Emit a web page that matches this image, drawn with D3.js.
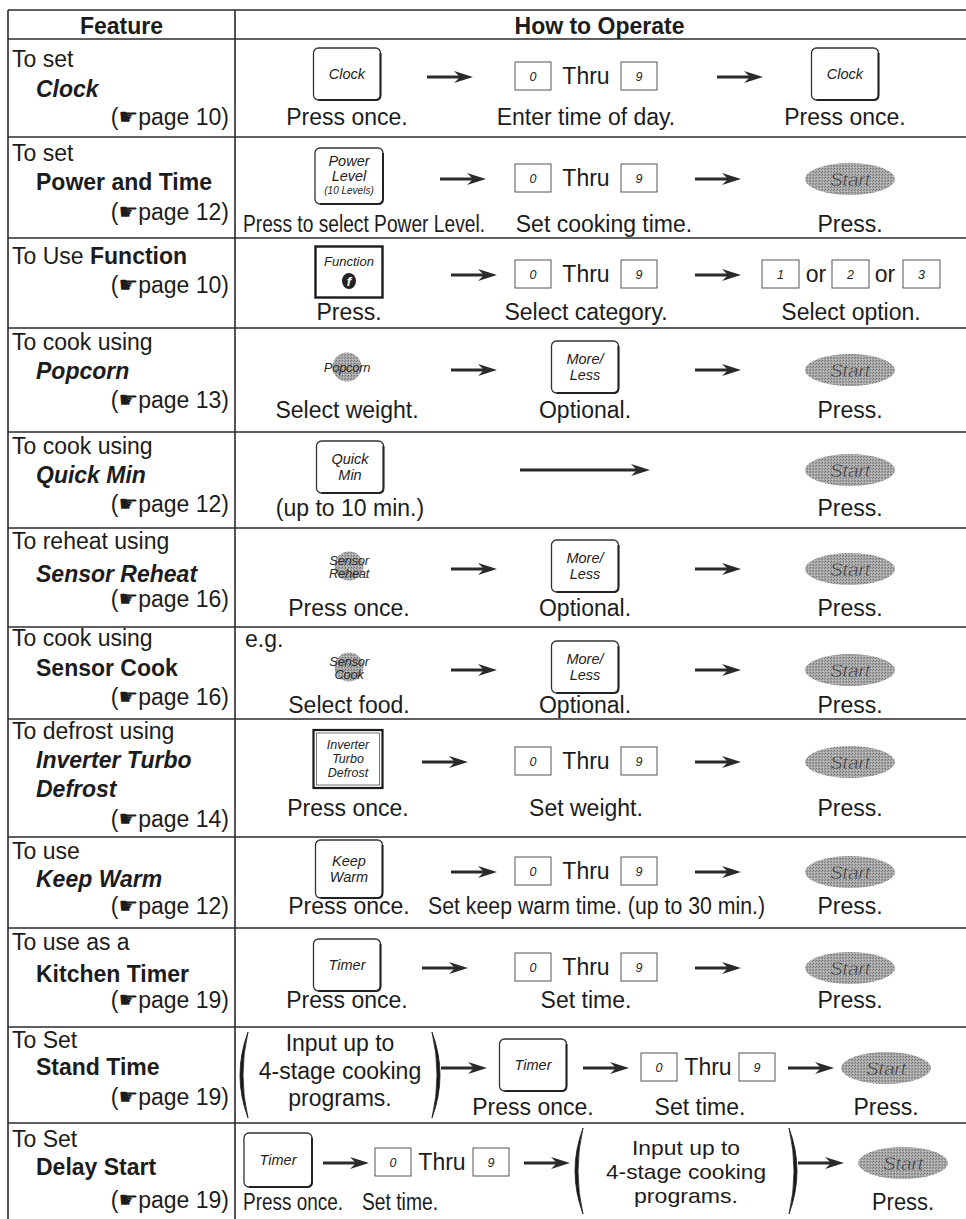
<!DOCTYPE html>
<html><head><meta charset="utf-8">
<script src="https://cdn.jsdelivr.net/npm/d3@7"></script>
<style>body{margin:0;background:#fff}svg{display:block}</style>
</head><body><svg id="c" width="966" height="1219"></svg>
<script>
// ================= DATA =================
const headers = ["Feature", "How to Operate"];
const featureIntro = ["To set","To set","To Use","To cook using","To cook using","To reheat using","To cook using","To defrost using","To use","To use as a","To Set","To Set"];
const featureNames = [["Clock"],["Power and Time"],["Function"],["Popcorn"],["Quick Min"],["Sensor Reheat"],["Sensor Cook"],["Inverter Turbo","Defrost"],["Keep Warm"],["Kitchen Timer"],["Stand Time"],["Delay Start"]];
const featureItalic = [true,false,false,true,true,true,false,true,true,false,false,false];
const pageRefs = [10,12,10,13,12,16,16,14,12,19,19,19];
const stagePrograms = ["Input up to","4-stage cooking","programs."];
const steps = [
  [{k:"key",t:["Clock"]},{k:"arrow"},{k:"digits"},{k:"arrow"},{k:"key",t:["Clock"]}],
  [{k:"key",t:["Power","Level","(10 Levels)"]},{k:"arrow"},{k:"digits"},{k:"arrow"},{k:"start"}],
  [{k:"fkey",t:["Function"]},{k:"arrow"},{k:"digits"},{k:"arrow"},{k:"opts",t:["1","2","3"]}],
  [{k:"pad",t:["Popcorn"]},{k:"arrow"},{k:"key",t:["More/","Less"]},{k:"arrow"},{k:"start"}],
  [{k:"key",t:["Quick","Min"]},{k:"arrow"},{k:"start"}],
  [{k:"pad",t:["Sensor","Reheat"]},{k:"arrow"},{k:"key",t:["More/","Less"]},{k:"arrow"},{k:"start"}],
  [{k:"pad",t:["Sensor","Cook"]},{k:"arrow"},{k:"key",t:["More/","Less"]},{k:"arrow"},{k:"start"}],
  [{k:"sq",t:["Inverter","Turbo","Defrost"]},{k:"arrow"},{k:"digits"},{k:"arrow"},{k:"start"}],
  [{k:"key",t:["Keep","Warm"]},{k:"arrow"},{k:"digits"},{k:"arrow"},{k:"start"}],
  [{k:"key",t:["Timer"]},{k:"arrow"},{k:"digits"},{k:"arrow"},{k:"start"}],
  [{k:"paren",t:stagePrograms},{k:"arrow"},{k:"key",t:["Timer"]},{k:"arrow"},{k:"digits"},{k:"arrow"},{k:"start"}],
  [{k:"key",t:["Timer"]},{k:"arrow"},{k:"digits"},{k:"arrow"},{k:"paren",t:stagePrograms},{k:"arrow"},{k:"start"}]
];
const captions = [
  ["Press once.","Enter time of day.","Press once."],
  ["Press to select Power Level.","Set cooking time.","Press."],
  ["Press.","Select category.","Select option."],
  ["Select weight.","Optional.","Press."],
  ["(up to 10 min.)","Press."],
  ["Press once.","Optional.","Press."],
  ["Select food.","Optional.","Press."],
  ["Press once.","Set weight.","Press."],
  ["Press once.","Set keep warm time. (up to 30 min.)","Press."],
  ["Press once.","Set time.","Press."],
  ["","Press once.","Set time.","Press."],
  ["Press once.","Set time.","","Press."]
];
const exampleNote = {row:6, text:"e.g."};

// ================= LAYOUT =================
const W = 966, H = 1219;
const X0 = 8, XDIV = 235, XR = 966, YTOP = 10, YHEAD = 39;
const rowHeights = [98,101,90,104,96,99,92,118,91,99,96,96];
const rowTops = [];
rowHeights.forEach((h,i)=>rowTops.push(i ? rowTops[i-1]+rowHeights[i-1] : YHEAD));
const yRow = d3.scaleOrdinal(d3.range(rowHeights.length), rowTops);
const xCols = d3.scaleOrdinal(["feature","operate"], [[X0, XDIV],[XDIV, XR]]);

const itemX = [
  [347,450,586,740,845],
  [349,463,586,718,850],
  [349,474,586,718,851],
  [347,474,585,718,850],
  [350,585,850],
  [349,474,585,718,850],
  [349,474,585,718,850],
  [348,445,586,718,850],
  [349,474,586,718,850],
  [347,445,586,718,850],
  [340,464,533,606,708,811,886],
  [278,346,442,547,686,821,903]
];
const keyDy = [35,39,34,39,35,38,40,40,32,37,38,37];
const capDy = [86,95,82,90,84,88,86,97,77,80,88,87];
const leftDy = [[28,58,86],[24,53,83],[26,55],[22,51,80],[22,51,80],[21,54,79],[19,49,78],[20,49,78,108],[22,50,77],[22,54,80],[21,48,78],[24,52,85]];
const FONT = "'Liberation Sans', Arial, Helvetica, sans-serif";
const FS = 23;
const INK = "#1c1c1c";

const svg = d3.select("#c");
const defs = svg.append("defs");
const pat = defs.append("pattern").attr("id","stip").attr("width",3).attr("height",3).attr("patternUnits","userSpaceOnUse");
pat.append("rect").attr("width",3).attr("height",3).attr("fill","#a9a9a9");
pat.append("rect").attr("width",1).attr("height",1).attr("fill","#727272");
pat.append("rect").attr("x",2).attr("y",1).attr("width",1).attr("height",1).attr("fill","#858585");
pat.append("rect").attr("x",1).attr("y",2).attr("width",1).attr("height",1).attr("fill","#c8c8c8");

svg.append("rect").attr("width",W).attr("height",H).attr("fill","#fff");
const gGrid = svg.append("g").attr("stroke","#2a2a2a").attr("stroke-width",1.6);
const gT = svg.append("g").attr("font-family",FONT).attr("fill",INK);

// grid
[YTOP, YHEAD].concat(rowTops.slice(1)).forEach(y=>{
  gGrid.append("line").attr("x1",X0).attr("x2",XR).attr("y1",y).attr("y2",y);
});
[X0, XDIV].forEach(x=>{
  gGrid.append("line").attr("x1",x).attr("x2",x).attr("y1",YTOP).attr("y2",H);
});

// headers
headers.forEach((h,i)=>{
  const [a,b] = xCols(i?"operate":"feature");
  gT.append("text").attr("x",(a+b)/2 + (i? -1:0)).attr("y",YTOP+24).attr("text-anchor","middle")
    .attr("font-size",FS).attr("font-weight","bold").text(h);
});

// feature column
featureIntro.forEach((intro,i)=>{
  const top = yRow(i), dy = leftDy[i];
  const bold = featureItalic[i] ? "italic" : "normal";
  let li = 0;
  if (i === 2) {
    const t = gT.append("text").attr("x",12).attr("y",top+dy[0]).attr("font-size",FS);
    t.append("tspan").text(intro+" ");
    t.append("tspan").attr("font-weight","bold").text(featureNames[i][0]);
    li = 1;
  } else {
    gT.append("text").attr("x",12).attr("y",top+dy[0]).attr("font-size",FS).text(intro);
    featureNames[i].forEach((n,j)=>{
      gT.append("text").attr("x",36).attr("y",top+dy[1+j]).attr("font-size",FS)
        .attr("font-weight","bold").attr("font-style",bold).text(n);
    });
    li = 1 + featureNames[i].length;
  }
  const p = gT.append("text").attr("x",229).attr("y",top+dy[li]).attr("font-size",FS).attr("text-anchor","end");
  p.append("tspan").text("(");
  p.append("tspan").attr("font-family","'DejaVu Sans'").attr("font-size",22).attr("dy",-1).text("\u261B");
  p.append("tspan").attr("dy",1).text("page " + pageRefs[i] + ")");
});

// ---------- step drawers ----------
function keyBtn(g, cx, cy, lines, w=67, h=52){
  g.append("rect").attr("x",cx-w/2).attr("y",cy-h/2).attr("width",w).attr("height",h).attr("rx",5)
    .attr("fill","#fff").attr("stroke","#333").attr("stroke-width",1.3);
  g.append("path").attr("d",`M${cx+w/2},${cy-h/2+5} V${cy+h/2-5} Q${cx+w/2},${cy+h/2} ${cx+w/2-5},${cy+h/2} H${cx-w/2+5}`)
    .attr("fill","none").attr("stroke","#222").attr("stroke-width",2);
  const sizes = lines.map(l=> l.startsWith("(") ? 10 : 14.5);
  const lh = lines.length===3 ? 15 : 16;
  const y0 = cy - (lines.length-1)*lh/2 + 5;
  lines.forEach((l,j)=>{
    g.append("text").attr("x",cx).attr("y",y0 + j*lh - (sizes[j]<12?2:0)).attr("text-anchor","middle")
      .attr("font-size",sizes[j]).attr("font-style","italic").attr("fill","#222").text(l);
  });
}
function fKey(g, cx, cy, lines){
  const w=67,h=51;
  g.append("rect").attr("x",cx-w/2).attr("y",cy-h/2).attr("width",w).attr("height",h)
    .attr("fill","#fff").attr("stroke","#1a1a1a").attr("stroke-width",2.4);
  g.append("text").attr("x",cx).attr("y",cy-6).attr("text-anchor","middle").attr("font-size",13)
    .attr("font-style","italic").attr("fill","#222").text(lines[0]);
  g.append("ellipse").attr("cx",cx).attr("cy",cy+9).attr("rx",7).attr("ry",8).attr("fill","#222");
  g.append("text").attr("x",cx).attr("y",cy+14).attr("text-anchor","middle").attr("font-size",13)
    .attr("font-style","italic").attr("font-weight","bold").attr("fill","#fff").text("f");
}
function sqKey(g, cx, cy, lines){
  const w=69,h=58;
  g.append("rect").attr("x",cx-w/2).attr("y",cy-h/2).attr("width",w).attr("height",h)
    .attr("fill","#fff").attr("stroke","#1a1a1a").attr("stroke-width",2.2);
  g.append("rect").attr("x",cx-w/2+3).attr("y",cy-h/2+3).attr("width",w-6).attr("height",h-6)
    .attr("fill","none").attr("stroke","#555").attr("stroke-width",0.8);
  lines.forEach((l,j)=>{
    g.append("text").attr("x",cx).attr("y",cy-10+j*14).attr("text-anchor","middle").attr("font-size",12.5)
      .attr("font-style","italic").attr("fill","#222").text(l);
  });
}
function pad(g, cx, cy, lines){
  g.append("circle").attr("cx",cx).attr("cy",cy).attr("r",14.5).attr("fill","url(#stip)");
  const y0 = lines.length===1 ? cy+5 : cy-1;
  lines.forEach((l,j)=>{
    g.append("text").attr("x",cx).attr("y",y0+j*13).attr("text-anchor","middle").attr("font-size",13)
      .attr("font-style","italic").attr("fill","#2a2a2a").attr("letter-spacing",-0.3).text(l);
  });
}
function digitBox(g, x, cy, label, w=36){
  g.append("rect").attr("x",x).attr("y",cy-14).attr("width",w).attr("height",28)
    .attr("fill","#fff").attr("stroke","#555").attr("stroke-width",1);
  g.append("text").attr("x",x+w/2).attr("y",cy+5).attr("text-anchor","middle").attr("font-size",12.5)
    .attr("font-style","italic").attr("fill","#222").text(label);
}
function digits(g, cx, cy, half=71){
  digitBox(g, cx-half, cy, "0");
  g.append("text").attr("x",cx).attr("y",cy+8).attr("text-anchor","middle").attr("font-size",FS).text("Thru");
  digitBox(g, cx+half-36, cy, "9");
}
function opts(g, cx, cy, labels){
  const offs = [-89,-19,52];
  labels.forEach((l,j)=>digitBox(g, cx+offs[j], cy, l, 37));
  [-35,34].forEach(o=>g.append("text").attr("x",cx+o).attr("y",cy+8).attr("text-anchor","middle").attr("font-size",FS).text("or"));
}
function startBtn(g, cx, cy){
  g.append("ellipse").attr("cx",cx).attr("cy",cy).attr("rx",45).attr("ry",16).attr("fill","url(#stip)");
  g.append("text").attr("x",cx).attr("y",cy+7).attr("text-anchor","middle").attr("font-size",19)
    .attr("font-style","italic").attr("fill","#3c3c3c").attr("stroke","#d0d0d0").attr("stroke-width",0.3).text("Start");
}
function arrow(g, cx, cy, len=46){
  const x0 = cx-len/2, x1 = cx+len/2;
  g.append("rect").attr("x",x0).attr("y",cy-1.5).attr("width",len-12).attr("height",3).attr("fill","#2a2a2a");
  g.append("path").attr("d",`M${x1},${cy} L${x1-19},${cy-6} L${x1-13},${cy} L${x1-19},${cy+6} Z`).attr("fill","#2a2a2a");
}
function paren(g, cx, top, h, half, lines, dys, lens, fs){
  [-1,1].forEach(s=>{
    const x = cx + s*half;
    const y0 = top+5, y1 = top+h-5, ym = (y0+y1)/2;
    g.append("path").attr("d",`M${x},${y0} Q${x + s*16},${ym} ${x},${y1} Q${x + s*10},${ym} ${x},${y0} Z`)
      .attr("fill","#1a1a1a").attr("stroke","#1a1a1a").attr("stroke-width",0.8);
  });
  lines.forEach((l,j)=>{
    const t = g.append("text").attr("x",cx).attr("y",top+dys[j]).attr("text-anchor","middle").attr("font-size",fs).text(l);
    if (lens) t.attr("textLength",lens[j]).attr("lengthAdjust","spacingAndGlyphs");
  });
}

// ---------- operate column ----------
const capOverrides = {
  "1-0": {x:243, anchor:"start", len:242},
  "1-1": {x:604},
  "8-1": {x:428, anchor:"start", len:337},
  "10-2": {x:700},
  "11-0": {x:293, len:100},
  "11-1": {x:400, len:76},
  "11-3": {len:62}
};
const parenGeo = {10:{half:92, dys:[24,52,79], lens:null, fs:23}, 11:{half:103, dys:[32,56,80], lens:[108,160,104], fs:21}};
const keySize = {"1-0":[68,56], "8-0":[67,58], "11-0":[68,54]};

steps.forEach((row,i)=>{
  const top = yRow(i), cy = top + keyDy[i];
  const g = gT.append("g");
  const half = i>=10 ? 67 : 71;
  let ci = 0;
  row.forEach((it,j)=>{
    const x = itemX[i][j];
    if (it.k==="arrow") { arrow(g, x, cy+3, row.length===3 ? 130 : 46); return; }
    if (it.k==="key") { const s = keySize[i+"-"+j] || [67,52]; keyBtn(g, x, cy, it.t, s[0], s[1]); }
    else if (it.k==="fkey") fKey(g, x, cy, it.t);
    else if (it.k==="sq") sqKey(g, x, cy, it.t);
    else if (it.k==="pad") pad(g, x, cy, it.t);
    else if (it.k==="digits") digits(g, x, cy+2, half);
    else if (it.k==="opts") opts(g, x, cy+2, it.t);
    else if (it.k==="start") startBtn(g, x, cy+3);
    else if (it.k==="paren") { const p = parenGeo[i]; paren(g, x, top, rowHeights[i], p.half, it.t, p.dys, p.lens, p.fs); }
    const cap = captions[i][ci];
    if (cap) {
      const o = capOverrides[i+"-"+ci] || {};
      const t = g.append("text").attr("x", o.x!=null ? o.x : x).attr("y", top+capDy[i])
        .attr("text-anchor", o.anchor || "middle").attr("font-size",FS).text(cap);
      if (o.len) t.attr("textLength",o.len).attr("lengthAdjust","spacingAndGlyphs");
    }
    ci++;
  });
});
gT.append("text").attr("x",245).attr("y",yRow(exampleNote.row)+20).attr("font-size",FS).text(exampleNote.text);
</script>
</body></html>
